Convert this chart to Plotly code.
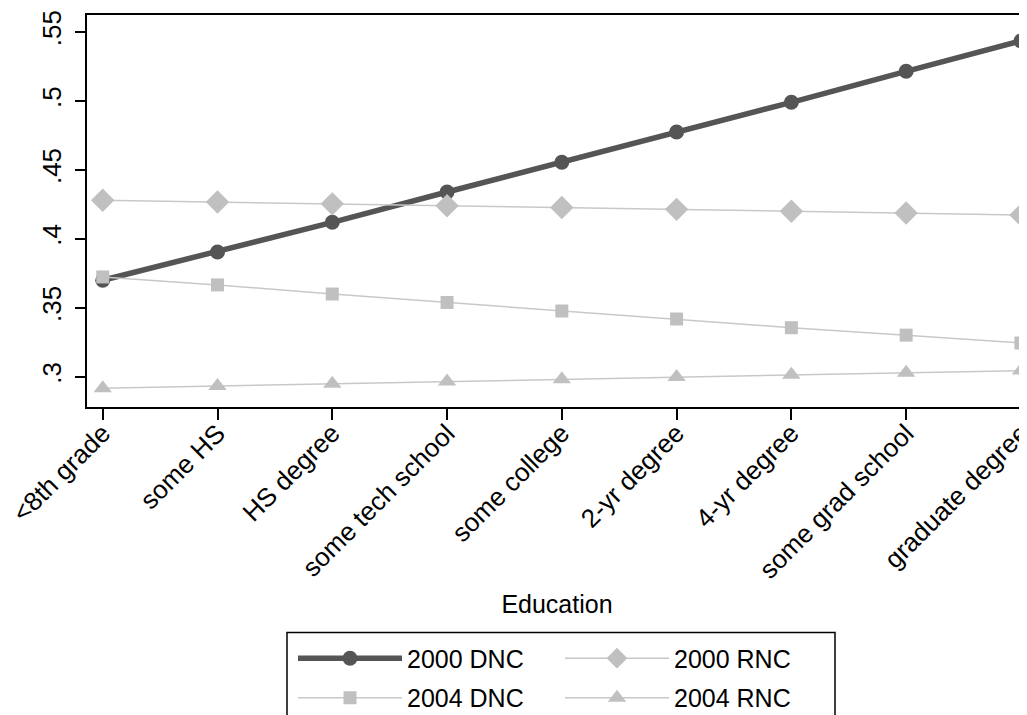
import plotly.graph_objects as go

categories = ["<8th grade", "some HS", "HS degree", "some tech school", "some college",
              "2-yr degree", "4-yr degree", "some grad school", "graduate degree"]
dnc_2000 = [0.370, 0.3905, 0.412, 0.434, 0.4555, 0.4775, 0.499, 0.5215, 0.5435]
rnc_2000 = [0.428, 0.4267, 0.4254, 0.4240, 0.4227, 0.4214, 0.4200, 0.4187, 0.4173]
dnc_2004 = [0.3724, 0.3666, 0.3600, 0.3539, 0.3477, 0.3419, 0.3356, 0.3302, 0.3245]
rnc_2004 = [0.2917, 0.2933, 0.2950, 0.2966, 0.2982, 0.2998, 0.3014, 0.3030, 0.3045]
y_ticks = [0.3, 0.35, 0.4, 0.45, 0.5, 0.55]
y_tick_text = [".3", ".35", ".4", ".45", ".5", ".55"]

FONT = "Liberation Sans, Arial, sans-serif"
DARK = "#555555"
LIGHT = "#c0c0c0"
LIGHTLINE = "#c8c8c8"

x = list(range(len(categories)))
fig = go.Figure()
fig.add_trace(go.Scatter(x=x, y=dnc_2000, name="2000 DNC", mode="lines+markers",
                         line=dict(color=DARK, width=5.5),
                         marker=dict(symbol="circle", size=15, color=DARK),
                         legend="legend", legendgroup="a", cliponaxis=False))
fig.add_trace(go.Scatter(x=x, y=dnc_2004, name="2004 DNC", mode="lines+markers",
                         line=dict(color=LIGHTLINE, width=1.5),
                         marker=dict(symbol="square", size=13, color=LIGHT),
                         legend="legend", legendgroup="b", cliponaxis=False))
fig.add_trace(go.Scatter(x=x, y=rnc_2000, name="2000 RNC", mode="lines+markers",
                         line=dict(color=LIGHTLINE, width=1.5),
                         marker=dict(symbol="diamond", size=18, color=LIGHT),
                         legend="legend2", legendgroup="c", cliponaxis=False))
fig.add_trace(go.Scatter(x=x, y=rnc_2004, name="2004 RNC", mode="lines+markers",
                         line=dict(color=LIGHTLINE, width=1.5),
                         marker=dict(symbol="triangle-up", size=16, color=LIGHT),
                         legend="legend2", legendgroup="d", cliponaxis=False))

# the page body has an 8px margin; positions below are in screen pixels
OFF = 8
W, H = 1027 - OFF, 715 - OFF
plot_left, plot_top, plot_bottom = 87, 15, 406.7
L = plot_left - OFF
T = plot_top - OFF
B = H - (plot_bottom - OFF)
pw = W - L
ph = H - T - B

def sx(px):
    return (px - OFF - L) / pw

def sy(py):
    return (H - B - (py - OFF)) / ph

fig.update_layout(
    template="none",
    width=W, height=H,
    margin=dict(l=L, r=0, t=T, b=B, pad=0, autoexpand=False),
    paper_bgcolor="white", plot_bgcolor="white",
    font=dict(family=FONT, size=25, color="black"),
    showlegend=True,
    xaxis=dict(
        range=[-0.137, 8.053], tickmode="array", tickvals=x, ticktext=categories,
        tickangle=-45, ticks="outside", ticklen=11, tickwidth=1.5, tickcolor="black",
        showline=True, linecolor="black", linewidth=1.5, mirror=True,
        showgrid=False, zeroline=False, automargin=False, ticklabeloverflow="allow",
        ticklabelstandoff=-12,
        title=dict(text="Education", font=dict(size=25), standoff=12),
        tickfont=dict(size=26),
    ),
    yaxis=dict(
        range=[0.2781, 0.5623], tickmode="array", tickvals=y_ticks, ticktext=y_tick_text,
        tickangle=-90, ticks="outside", ticklen=10, tickwidth=1.5, tickcolor="black",
        showline=True, linecolor="black", linewidth=1.5, mirror=False,
        showgrid=False, zeroline=False, automargin=False, tickfont=dict(size=26),
        ticklabelstandoff=4,
    ),
    legend=dict(
        x=sx(293), y=sy(635), xanchor="left", yanchor="top",
        orientation="v", bgcolor="rgba(0,0,0,0)", borderwidth=0,
        font=dict(size=25), itemwidth=104, tracegroupgap=4, itemclick=False,
    ),
    legend2=dict(
        x=sx(560), y=sy(635), xanchor="left", yanchor="top",
        orientation="v", bgcolor="rgba(0,0,0,0)", borderwidth=0,
        font=dict(size=25), itemwidth=104, tracegroupgap=4, itemclick=False,
    ),
    shapes=[dict(type="rect", xref="paper", yref="paper",
                 x0=sx(287), x1=sx(835), y0=sy(632), y1=sy(760),
                 line=dict(color="black", width=1.5), fillcolor="rgba(0,0,0,0)")],
)

fig.write_html("out.html")
